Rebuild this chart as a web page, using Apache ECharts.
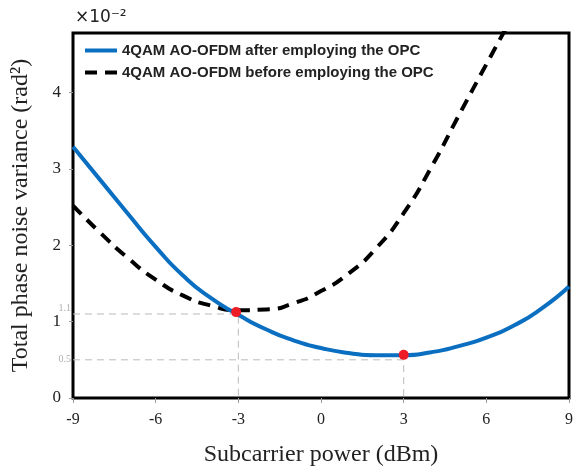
<!DOCTYPE html>
<html>
<head>
<meta charset="utf-8">
<script src="https://cdn.jsdelivr.net/npm/echarts@6/dist/echarts.min.js"></script>
<style>
html,body{margin:0;padding:0;background:#fff;}
#chart{width:576px;height:472px;}
</style>
</head>
<body>
<div id="chart"></div>
<script>
const xValues = [-9,-8,-7,-6,-5,-4,-3,-2,-1,0,1,2,3,4,5,6,7,8,9];
const afterOPC = [3.29,2.85,2.41,1.98,1.60,1.31,1.09,0.90,0.755,0.655,0.59,0.56,0.56,0.60,0.68,0.79,0.95,1.17,1.46];
const beforeX = [-9,-8,-7,-6,-5,-4,-3,-2,-1,0,1,2,3,4,5,6,7];
const beforeOPC = [2.52,2.16,1.83,1.55,1.34,1.21,1.15,1.16,1.24,1.40,1.63,1.96,2.42,3.02,3.70,4.37,5.03];
const markerX = [-3.08, 3];
const markerY = [1.125, 0.565];
const guideX = [-3, 3];
const guideLevels = [1.1, 0.5];
const guideLabels = ['1.1', '0.5'];
const seriesNames = ['4QAM AO-OFDM after employing the OPC', '4QAM AO-OFDM before employing the OPC'];
const xTicks = [-9,-6,-3,0,3,6,9];
const yTicks = [0,1,2,3,4];

const chart = echarts.init(document.getElementById('chart'));
const serif = 'Liberation Serif, Times New Roman, serif';
const guideLabelOffsets = [[2, -6], [2, 0]];

const guideSeries = guideLevels.map((lvl, i) => ({
  type: 'line',
  name: 'guide' + i,
  data: [[xValues[0], lvl], [guideX[i], lvl], [guideX[i], 0]],
  symbol: 'none',
  lineStyle: {color: '#bbb', width: 1, type: [7, 5]},
  z: 1,
  silent: true
}));

chart.setOption({
  animation: false,
  grid: {left: 73, right: 4, top: 33, bottom: 74, show: true, borderColor: '#000', borderWidth: 3, backgroundColor: 'transparent'},
  title: {
    text: '×10⁻²', left: 70, top: 4,
    textStyle: {fontFamily: 'DejaVu Sans', fontSize: 17, fontWeight: 'normal', color: '#222'}
  },
  legend: {
    data: [
      {name: seriesNames[0], icon: 'rect'},
      {name: seriesNames[1], icon: 'path://M0 0h12v4h-12zM20 0h12v4h-12z'}
    ],
    orient: 'vertical', left: 80, top: 38, itemWidth: 32, itemHeight: 4, itemGap: 7,
    textStyle: {fontFamily: 'Liberation Sans, Arial', fontWeight: 'bold', fontSize: 15, color: '#222'}
  },
  xAxis: {
    type: 'value', min: -9, max: 9, interval: 3,
    name: 'Subcarrier power (dBm)', nameLocation: 'middle', nameGap: 45,
    nameTextStyle: {fontFamily: serif, fontSize: 24, color: '#222'},
    axisLine: {show: false},
    axisTick: {show: true, length: 5, lineStyle: {color: '#999'}},
    axisLabel: {fontFamily: serif, fontSize: 16, color: '#222', margin: 14,
      formatter: v => xTicks.includes(v) ? String(v) : ''},
    splitLine: {show: false}
  },
  yAxis: {
    type: 'value', min: 0, max: 4.78, interval: 1,
    name: 'Total phase noise variance (rad²)', nameLocation: 'middle', nameGap: 40,
    nameTextStyle: {fontFamily: serif, fontSize: 24, color: '#222'},
    axisLine: {show: false, onZero: false},
    axisTick: {show: true, length: 4, lineStyle: {color: '#999'}, customValues: yTicks},
    axisLabel: {fontFamily: serif, fontSize: 17, color: '#222', margin: 12, customValues: yTicks,
      formatter: v => yTicks.includes(v) ? String(v) : ''},
    splitLine: {show: false}
  },
  series: guideSeries.concat([
    {
      type: 'scatter', name: 'guideLabels',
      data: guideLevels.map((lvl, i) => ({value: [xValues[0], lvl], label: {formatter: guideLabels[i], offset: guideLabelOffsets[i]}})),
      symbolSize: 0, clip: false, silent: true,
      label: {show: true, position: 'left', distance: 4, color: '#999', fontSize: 10, fontFamily: serif}
    },
    {
      type: 'line', name: seriesNames[0],
      data: xValues.map((x, i) => [x, afterOPC[i]]),
      smooth: 0.6, symbol: 'none', color: '#0b6fc1',
      lineStyle: {color: '#0b6fc1', width: 4}, z: 3
    },
    {
      type: 'line', name: seriesNames[1],
      data: beforeX.map((x, i) => [x, beforeOPC[i]]),
      smooth: 0.6, symbol: 'none', color: '#000',
      lineStyle: {color: '#000', width: 4, type: [12, 8]}, z: 2
    },
    {
      type: 'scatter', name: 'markers',
      data: markerX.map((x, i) => [x, markerY[i]]),
      symbolSize: 10, itemStyle: {color: '#ee1c25', opacity: 1}, z: 5
    }
  ])
});
</script>
</body>
</html>
